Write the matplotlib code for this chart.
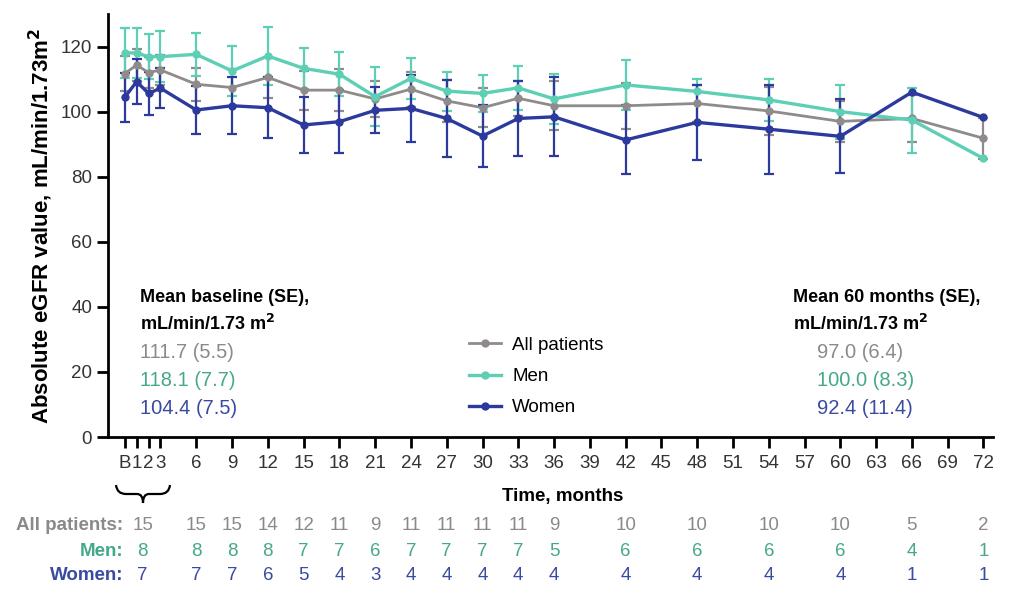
import numpy as np
import matplotlib.pyplot as plt
from matplotlib import font_manager
from matplotlib.lines import Line2D
from matplotlib.path import Path
from matplotlib.patches import PathPatch
from matplotlib.transforms import blended_transform_factory

# time points (B = baseline = 0)
months = [0, 1, 2, 3, 6, 9, 12, 15, 18, 21, 24, 27, 30, 33, 36, 42, 48, 54, 60, 66, 72]
tick_months = [0, 1, 2, 3] + list(range(6, 73, 3))
tick_labels = ['B', '1', '2', '3'] + [str(m) for m in range(6, 73, 3)]

all_mean = [111.7, 114.3, 112.0, 112.8, 108.4, 107.4, 110.5, 106.6, 106.6, 103.9, 106.9,
            103.3, 101.2, 104.1, 101.8, 101.8, 102.5, 100.2, 97.0, 97.9, 91.8]
all_se = [5.5, 5.0, 4.8, 4.6, 5.0, 5.6, 6.2, 6.0, 6.5, 5.5, 5.4,
          6.5, 6.0, 5.3, 7.5, 7.0, 5.7, 7.5, 6.4, 7.1, 6.3]
men_mean = [118.1, 118.0, 116.9, 116.9, 117.6, 112.5, 117.1, 113.3, 111.5, 104.6, 110.2,
            106.3, 105.6, 107.3, 103.9, 108.2, 106.2, 103.6, 100.0, 97.4, 85.6]
men_se = [7.7, 7.6, 7.0, 7.8, 6.6, 7.8, 9.0, 6.2, 6.8, 9.0, 6.4,
          6.0, 5.7, 6.7, 7.6, 7.7, 3.9, 6.5, 8.3, 10.0, np.nan]
women_mean = [104.4, 109.2, 105.6, 107.2, 100.5, 101.8, 101.2, 95.9, 96.9, 100.4, 101.0,
              97.9, 92.5, 97.9, 98.4, 91.3, 96.7, 94.6, 92.4, 106.0, 98.2]
women_se = [7.5, 7.0, 6.6, 6.2, 7.5, 8.8, 9.4, 8.7, 9.7, 7.1, 10.2,
            11.7, 9.4, 11.6, 12.1, 10.6, 11.5, 13.7, 11.4, np.nan, np.nan]

# patients at risk
count_x = [1.5, 6, 9, 12, 15, 18, 21, 24, 27, 30, 33, 36, 42, 48, 54, 60, 66, 72]
n_all = [15, 15, 15, 14, 12, 11, 9, 11, 11, 11, 11, 9, 10, 10, 10, 10, 5, 2]
n_men = [8, 8, 8, 8, 7, 7, 6, 7, 7, 7, 7, 5, 6, 6, 6, 6, 4, 1]
n_women = [7, 7, 7, 6, 5, 4, 3, 4, 4, 4, 4, 4, 4, 4, 4, 4, 1, 1]

baseline_txt = ['111.7 (5.5)', '118.1 (7.7)', '104.4 (7.5)']
m60_txt = ['97.0 (6.4)', '100.0 (8.3)', '92.4 (11.4)']

c_all, c_men, c_women = '#8f8b8b', '#5ccfb5', '#2b3a9c'
t_all, t_men, t_women = '#8a8a8a', '#45a88a', '#3a4aa2'

names = {f.name for f in font_manager.fontManager.ttflist}
narrow = 'Liberation Sans Narrow' if 'Liberation Sans Narrow' in names else 'Liberation Sans'
plt.rcParams['font.family'] = ['Liberation Sans', 'DejaVu Sans']

W, H = 1012, 595
fig = plt.figure(figsize=(W / 100, H / 100), dpi=100)


def fx(px):
    return px / W


def fy(py):
    return 1 - py / H


ax = fig.add_axes([fx(108), fy(437), fx(993) - fx(108), fy(14) - fy(437)])

for mean, se, col, lw in [(all_mean, all_se, c_all, 2.0),
                          (men_mean, men_se, c_men, 2.4),
                          (women_mean, women_se, c_women, 2.4)]:
    ax.errorbar(months, mean, yerr=se, color=col, lw=lw, marker='o', ms=5,
                elinewidth=1.6, capsize=3.5, capthick=1.6)

ax.set_xlim(-1.4, 72.8)
ax.set_ylim(0, 130)
ax.set_yticks(range(0, 121, 20))
ax.set_xticks(tick_months)
ax.set_xticklabels(tick_labels)
for s in ['top', 'right']:
    ax.spines[s].set_visible(False)
for s in ['left', 'bottom']:
    ax.spines[s].set_linewidth(2)
ax.tick_params(direction='out', length=8, width=2, labelsize=13.5, colors='black',
               labelcolor='#333333')
for lab in ax.get_xticklabels() + ax.get_yticklabels():
    lab.set_family(narrow)
ax.tick_params(axis='x', pad=5)

ax.set_ylabel('Absolute eGFR value, mL/min/1.73m$\\mathbf{^2}$', fontsize=16,
              fontweight='bold', labelpad=4)
fig.text(fx(563), fy(496), 'Time, months', fontsize=13.5, fontweight='bold',
         ha='center', va='center')

# brace under B-3
bp = [(116, 485), (117, 494), (126, 494), (137, 494), (143, 494), (143, 503),
      (143, 494), (149, 494), (160, 494), (169, 494), (170, 485)]
codes = [Path.MOVETO, Path.CURVE3, Path.CURVE3, Path.LINETO, Path.CURVE3, Path.CURVE3,
         Path.CURVE3, Path.CURVE3, Path.LINETO, Path.CURVE3, Path.CURVE3]
brace = PathPatch(Path([(fx(a), fy(b)) for a, b in bp], codes), fill=False,
                  lw=1.6, color='black', transform=fig.transFigure)
fig.add_artist(brace)

# at-risk table
tr = blended_transform_factory(ax.transData, fig.transFigure)
rows = [('All patients:', n_all, t_all, 525), ('Men:', n_men, t_men, 551),
        ('Women:', n_women, t_women, 576)]
for label, counts, col, py in rows:
    fig.text(fx(123), fy(py), label, ha='right', va='center', fontsize=13.5,
             family=narrow, fontweight='bold', color=col)
    for xv, n in zip(count_x, counts):
        ax.text(xv, fy(py), str(n), transform=tr, ha='center', va='center',
                fontsize=13.5, family=narrow, color=col, clip_on=False)

# baseline / 60 month summaries
fig.text(fx(140), fy(297), 'Mean baseline (SE),', fontsize=13, fontweight='bold',
         va='center')
fig.text(fx(140), fy(324), 'mL/min/1.73 m$\\mathbf{^2}$', fontsize=13, fontweight='bold',
         va='center')
fig.text(fx(793), fy(297), 'Mean 60 months (SE),', fontsize=13, fontweight='bold',
         va='center')
fig.text(fx(793), fy(324), 'mL/min/1.73 m$\\mathbf{^2}$', fontsize=13, fontweight='bold',
         va='center')
for i, col in enumerate([t_all, t_men, t_women]):
    fig.text(fx(140), fy(353 + 28 * i), baseline_txt[i], fontsize=14.5, family=narrow,
             color=col, va='center')
    fig.text(fx(817), fy(353 + 28 * i), m60_txt[i], fontsize=14.5, family=narrow,
             color=col, va='center')

handles = [Line2D([], [], color=c_all, lw=2.0, marker='o', ms=5),
           Line2D([], [], color=c_men, lw=2.4, marker='o', ms=5),
           Line2D([], [], color=c_women, lw=2.4, marker='o', ms=5)]
fig.legend(handles, ['All patients', 'Men', 'Women'], loc='upper left',
           bbox_to_anchor=(fx(452), fy(320)), frameon=False, fontsize=13.5,
           handlelength=1.7, labelspacing=0.75, handletextpad=0.6)

fig.savefig('out.png', dpi=100)
